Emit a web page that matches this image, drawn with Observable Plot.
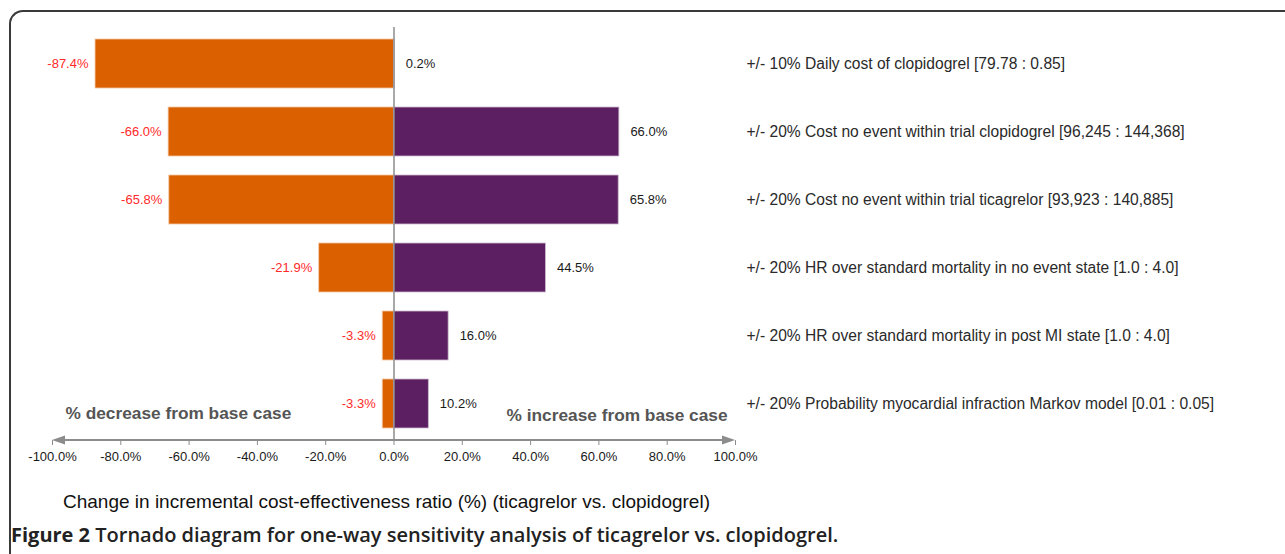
<!DOCTYPE html>
<html>
<head>
<meta charset="utf-8">
<script src="https://cdn.jsdelivr.net/npm/d3@7"></script>
<script src="https://cdn.jsdelivr.net/npm/@observablehq/plot@0.6"></script>
<style>
  html, body { margin: 0; padding: 0; background: #fff; }
  #wrap { position: relative; width: 1285px; height: 554px; overflow: hidden; background: #fff; }
  #frame { position: absolute; left: 9px; top: 10px; width: 1400px; height: 700px;
           border-left: 2px solid #3a3a3a; border-top: 2px solid #3a3a3a; border-top-left-radius: 14px; }
  #chart { position: absolute; left: 0; top: 0; }
  #xtitle { position: absolute; left: 63px; top: 490px; font: 19px "Liberation Sans", Arial, sans-serif; color: #111; white-space: nowrap; line-height: 24px; }
  #caption { position: absolute; left: 11px; top: 522px; font: 600 20px "Open Sans", sans-serif; color: #222; white-space: nowrap; line-height: 26px; }
  #caption b { font-weight: 700; }
</style>
</head>
<body>
<div id="wrap">
  <div id="frame"></div>
  <div id="chart"></div>
  <div id="xtitle">Change in incremental cost-effectiveness ratio (%) (ticagrelor vs. clopidogrel)</div>
  <div id="caption"><b>Figure 2</b> Tornado diagram for one-way sensitivity analysis of ticagrelor vs. clopidogrel.</div>
</div>
<script>
const parameters = [
  "+/- 10% Daily cost of clopidogrel [79.78 : 0.85]",
  "+/- 20% Cost no event within trial clopidogrel [96,245 : 144,368]",
  "+/- 20% Cost no event within trial ticagrelor [93,923 : 140,885]",
  "+/- 20% HR over standard mortality in no event state [1.0 : 4.0]",
  "+/- 20% HR over standard mortality in post MI state [1.0 : 4.0]",
  "+/- 20% Probability myocardial infraction Markov model [0.01 : 0.05]"
];
const decreaseValues = [-87.4, -66.0, -65.8, -21.9, -3.3, -3.3];
const increaseValues = [0.2, 66.0, 65.8, 44.5, 16.0, 10.2];
const xTicks = [-100, -80, -60, -40, -20, 0, 20, 40, 60, 80, 100];
const directionLabels = ["% decrease from base case", "% increase from base case"];

const rows = parameters.map((p, i) => ({label: p, low: decreaseValues[i], high: increaseValues[i]}));
const fmt = v => v.toFixed(1) + "%";

const orange = "#DB6100";
const purple = "#5C2062";
const axisGray = "#8c8c8c";

function arrowAxis(index, scales, values, dimensions) {
  const x = scales.x;
  const y0 = dimensions.height - dimensions.marginBottom;
  const xa = x(-100), xb = x(100);
  const g = d3.create("svg:g");
  g.append("line").attr("x1", xa + 8).attr("x2", xb - 8).attr("y1", y0).attr("y2", y0)
    .attr("stroke", axisGray).attr("stroke-width", 2);
  g.append("path").attr("d", `M${xa},${y0}L${xa + 13},${y0 - 4.5}L${xa + 13},${y0 + 4.5}Z`).attr("fill", axisGray);
  g.append("path").attr("d", `M${xb},${y0}L${xb - 13},${y0 - 4.5}L${xb - 13},${y0 + 4.5}Z`).attr("fill", axisGray);
  return g.node();
}

const chart = Plot.plot({
  width: 1285,
  height: 475,
  marginLeft: 52,
  marginRight: 550,
  marginTop: 27,
  marginBottom: 35,
  style: {fontFamily: "'Liberation Sans', Arial, sans-serif", background: "transparent", overflow: "visible"},
  x: {domain: [-100, 100], label: null},
  y: {domain: parameters, paddingInner: 0.28, paddingOuter: 0.14, label: null},
  marks: [
    Plot.barX(rows, {x1: 0, x2: "low", y: "label", fill: orange, stroke: "#f3c9a6", strokeWidth: 0.8}),
    Plot.barX(rows, {x1: 0, x2: "high", y: "label", fill: purple, stroke: "#cdbcd0", strokeWidth: 0.8}),
    Plot.ruleX([0], {stroke: axisGray, strokeWidth: 1.5}),
    Plot.text(rows, {x: "low", y: "label", text: d => fmt(d.low), textAnchor: "end", dx: -7, fill: "#ff2a2a", fontSize: 13}),
    Plot.text(rows, {x: "high", y: "label", text: d => fmt(d.high), textAnchor: "start", dx: 11, fill: "#1a1a1a", fontSize: 13}),
    Plot.axisY({anchor: "right", tickSize: 0, tickPadding: 11, fontSize: 15.6, textAnchor: "start", color: "#2a2a2a", label: null}),
    arrowAxis,
    Plot.axisX({ticks: xTicks, tickFormat: fmt, tickSize: 5, tickPadding: 6, fontSize: 13, stroke: axisGray, color: "#1a1a1a", label: null}),
    Plot.text([directionLabels[0]], {x: -100, text: d => d, frameAnchor: "bottom", textAnchor: "start", dx: 13, dy: -22, fontSize: 17.3, fontWeight: "bold", fill: "#555"}),
    Plot.text([directionLabels[1]], {x: 100, text: d => d, frameAnchor: "bottom", textAnchor: "end", dx: -8, dy: -20, fontSize: 17.3, fontWeight: "bold", fill: "#555"})
  ]
});
document.getElementById("chart").appendChild(chart);
</script>
</body>
</html>
